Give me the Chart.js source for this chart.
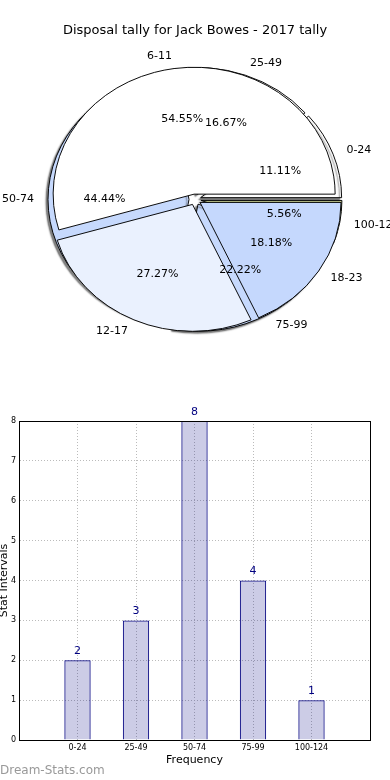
<!DOCTYPE html>
<html>
<head>
<meta charset="utf-8">
<script src="https://cdn.jsdelivr.net/npm/chart.js@4.4.1/dist/chart.umd.min.js"></script>
<style>
  body { margin: 0; background: #fff; font-family: 'DejaVu Sans', sans-serif; }
  #wrap { position: relative; width: 390px; height: 780px; overflow: hidden; }
  .layer { position: absolute; left: 0; }
  #title { position: absolute; top: 22px; left: 0; width: 390px; text-align: center; font-size: 13px; line-height: 16px; color: #000; }
  #mark { position: absolute; left: 0; top: 762px; font-size: 12px; line-height: 16px; color: #999; }
</style>
</head>
<body>
<div id="wrap">
  <canvas id="pieBack" class="layer" width="390" height="399" style="top:0"></canvas>
  <canvas id="pieFront" class="layer" width="390" height="399" style="top:0"></canvas>
  <div id="title">Disposal tally for Jack Bowes - 2017 tally</div>
  <canvas id="bars" class="layer" width="390" height="380" style="top:400px"></canvas>
  <div id="mark">Dream-Stats.com</div>
</div>
<script>
// --- datos ---
const intervalLabels = ['0-24', '25-49', '50-74', '75-99', '100-124'];
const intervalCounts = [2, 3, 8, 4, 1];
const disposalLabels = ['6-11', '12-17', '18-23'];
const disposalCounts = [6, 3, 2];
const countTicks = [0, 1, 2, 3, 4, 5, 6, 7, 8];

// colores
const intervalColors = ['#ffffff', '#ffffff', '#c6d9fd', '#c6d9fd', '#d6dc9e'];
const disposalColors = ['#ffffff', '#eaf1fe', '#c5d8fd'];

const FONT = "'DejaVu Sans', sans-serif";
const SQUASH = 0.9;  // la tarta es una elipse en el original
const EXPLODE = 6;   // px que se separa cada porcion

// aplastar la tarta, separar porciones (y sombra opcional)
function explodedPie(shadow) {
  return {
    id: 'explodedPie',
    beforeDatasetsDraw(chart) {
      const ctx = chart.ctx;
      const cy = (chart.chartArea.top + chart.chartArea.bottom) / 2;
      ctx.save();
      ctx.translate(0, cy);
      ctx.scale(1, SQUASH);
      ctx.translate(0, -cy);
      if (shadow) {
        ctx.shadowColor = 'rgba(0,0,0,0.5)';
        ctx.shadowOffsetX = -2;
        ctx.shadowOffsetY = 2;
        ctx.shadowBlur = 1.5;
      }
      chart.getDatasetMeta(0).data.forEach(arc => {
        const mid = (arc.startAngle + arc.endAngle) / 2;
        ctx.save();
        ctx.translate(Math.cos(mid) * EXPLODE, Math.sin(mid) * EXPLODE);
        arc.draw(ctx);
        ctx.restore();
      });
      ctx.restore();
      return false;
    }
  };
}

// textos de las dos tartas, dibujados encima de todo
const pieText = {
  id: 'pieText',
  afterDraw(chart) {
    const ctx = chart.ctx;
    ctx.save();
    ctx.font = '11px ' + FONT;
    ctx.fillStyle = '#000';
    ctx.textBaseline = 'middle';
    [Chart.getChart('pieBack'), chart].forEach(c => {
      const vals = c.data.datasets[0].data;
      const total = vals.reduce((a, b) => a + b, 0);
      c.getDatasetMeta(0).data.forEach((arc, i) => {
        const p = arc.getProps(['x', 'y', 'startAngle', 'endAngle', 'outerRadius'], true);
        const mid = (p.startAngle + p.endAngle) / 2;
        const at = d => [
          p.x + Math.cos(mid) * (EXPLODE + d * p.outerRadius),
          p.y + Math.sin(mid) * (EXPLODE + d * p.outerRadius) * SQUASH
        ];
        const [lx, ly] = at(1.1);
        ctx.textAlign = Math.cos(mid) >= 0 ? 'left' : 'right';
        ctx.fillText(c.data.labels[i], lx, ly);
        const [px, py] = at(0.6);
        ctx.textAlign = 'center';
        ctx.fillText((vals[i] / total * 100).toFixed(2) + '%', px, py);
      });
    });
    ctx.restore();
  }
};

// Chart.js va en sentido horario: invertimos el orden y empezamos a las 3
function pieConfig(labels, values, colors, extra) {
  return {
    type: 'pie',
    data: {
      labels: labels.slice().reverse(),
      datasets: [{
        data: values.slice().reverse(),
        backgroundColor: colors.slice().reverse(),
        borderColor: '#000',
        borderWidth: 1
      }]
    },
    options: {
      responsive: false,
      animation: false,
      events: [],
      rotation: 90,
      radius: 141,
      layout: { padding: 0 },
      plugins: { legend: { display: false }, tooltip: { enabled: false } }
    },
    plugins: extra
  };
}

new Chart(document.getElementById('pieBack'),
  pieConfig(intervalLabels, intervalCounts, intervalColors, [explodedPie(true)]));
new Chart(document.getElementById('pieFront'),
  pieConfig(disposalLabels, disposalCounts, disposalColors, [explodedPie(false), pieText]));

// --- barras ---
const barExtras = {
  id: 'barExtras',
  afterDatasetsDraw(chart) {
    const ctx = chart.ctx;
    ctx.save();
    ctx.font = '11px ' + FONT;
    ctx.fillStyle = '#000080';
    ctx.textAlign = 'center';
    ctx.textBaseline = 'middle';
    chart.getDatasetMeta(0).data.forEach((bar, i) => {
      ctx.fillText(String(intervalCounts[i]), bar.x, bar.y - 9);
    });
    ctx.restore();
  },
  afterDraw(chart) {
    const { ctx, chartArea: a } = chart;
    ctx.save();
    ctx.strokeStyle = '#000';
    ctx.lineWidth = 1;
    ctx.strokeRect(Math.round(a.left) + 0.5, Math.round(a.top) + 0.5,
      Math.round(a.right - a.left), Math.round(a.bottom - a.top));
    ctx.restore();
  }
};

new Chart(document.getElementById('bars'), {
  type: 'bar',
  data: {
    datasets: [{
      data: intervalCounts.map((v, i) => ({ x: i, y: v })),
      backgroundColor: 'rgba(0,0,128,0.2)',
      borderColor: '#000080',
      borderWidth: 1,
      barPercentage: 0.45,
      categoryPercentage: 1
    }]
  },
  options: {
    responsive: false,
    animation: false,
    events: [],
    layout: { padding: { top: 21, right: 20, bottom: 13, left: 0 } },
    plugins: { legend: { display: false }, tooltip: { enabled: false } },
    scales: {
      x: {
        type: 'linear',
        min: -1,
        max: intervalLabels.length,
        offset: false,
        z: 1,
        afterFit: s => { s.height = 27; },
        ticks: {
          stepSize: 1, autoSkip: false, maxRotation: 0, padding: 3,
          font: { family: FONT, size: 8 }, color: '#000',
          callback: v => intervalLabels[v] ?? ''
        },
        grid: { color: '#bbbbbb', offset: false, drawTicks: false },
        border: { display: true, color: '#000', dash: [1, 2] },
        title: { display: true, text: 'Frequency', color: '#000', font: { family: FONT, size: 11 }, padding: 0 }
      },
      y: {
        min: countTicks[0],
        max: countTicks[countTicks.length - 1],
        z: 1,
        afterFit: s => { s.width = 19; },
        ticks: {
          stepSize: 1, padding: 3,
          font: { family: FONT, size: 8 }, color: '#000'
        },
        grid: { color: '#bbbbbb', drawTicks: false },
        border: { display: true, color: '#000', dash: [1, 2] },
        title: { display: true, text: 'Stat Intervals', color: '#000', font: { family: FONT, size: 11 }, padding: { top: -2, bottom: 0 } }
      }
    }
  },
  plugins: [barExtras]
});
</script>
</body>
</html>
